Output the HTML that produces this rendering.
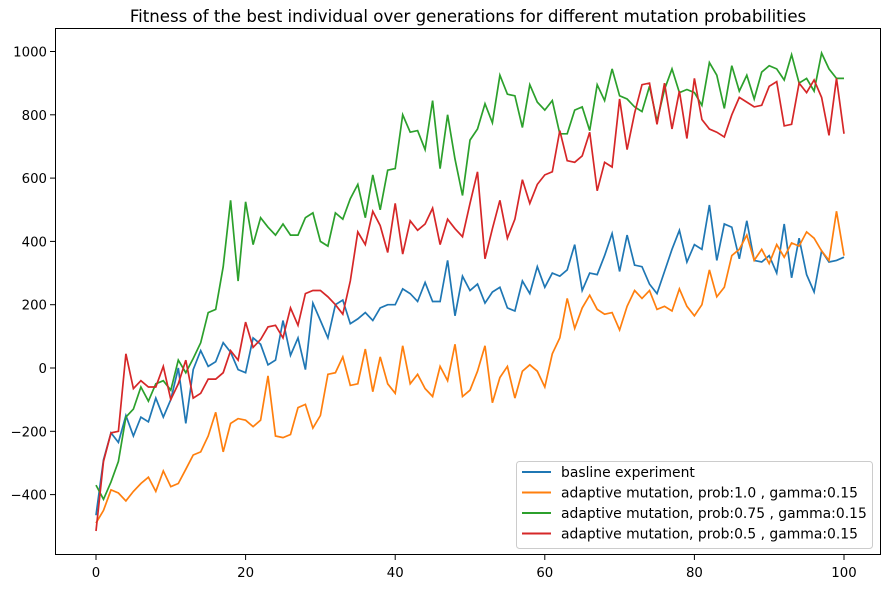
<!DOCTYPE html>
<html><head><meta charset="utf-8"><style>
body{margin:0;background:#fff;}
svg{display:block;font-family:"DejaVu Sans","Liberation Sans",sans-serif;}
</style></head><body>
<svg id="chart" width="890" height="589">
<text x="468" y="22" font-size="16.6" text-anchor="middle" fill="#000">Fitness of the best individual over generations for different mutation probabilities</text>
<g id="marks"></g>
<rect x="55.5" y="28.5" width="825" height="526" fill="none" stroke="#000" stroke-width="1"/>
<g id="axes"></g>
<g>
<rect x="516.5" y="461.5" width="356" height="87" rx="3" fill="#fff" fill-opacity="0.8" stroke="#ccc"/>
<g id="legend-entries"></g>
</g>
</svg>
<script>
const seriesNames=["basline experiment","adaptive mutation, prob:1.0 , gamma:0.15","adaptive mutation, prob:0.75 , gamma:0.15","adaptive mutation, prob:0.5 , gamma:0.15"];
const colors=["#1f77b4","#ff7f0e","#2ca02c","#d62728"];
const xTicks=[0,20,40,60,80,100];
const yTicks=[-400,-200,0,200,400,600,800,1000];
const baseline=[-465,-290,-205,-235,-150,-215,-155,-170,-95,-155,-100,0,-175,-5,55,5,20,80,50,-5,-15,95,75,10,25,150,40,95,-5,205,150,95,200,215,140,155,175,150,190,200,200,250,235,210,270,210,210,340,165,290,245,265,205,240,255,190,180,275,235,320,255,300,290,310,390,245,300,295,355,425,305,420,325,320,265,235,305,375,435,335,390,375,515,340,455,445,345,465,340,335,355,300,455,285,410,295,240,370,335,340,350];
const prob100=[-490,-450,-385,-395,-420,-390,-365,-345,-390,-325,-375,-365,-320,-275,-265,-215,-140,-265,-175,-160,-165,-185,-165,-25,-215,-220,-210,-125,-115,-190,-150,-20,-15,35,-55,-50,60,-75,35,-50,-80,70,-50,-20,-65,-90,5,-40,75,-90,-70,-10,70,-110,-30,5,-95,-10,10,-10,-60,45,95,220,125,190,230,185,170,175,120,195,245,220,245,185,195,180,250,195,165,200,310,225,255,355,375,420,340,375,330,390,350,395,385,430,410,370,340,495,355];
const prob075=[-370,-415,-360,-295,-155,-130,-60,-105,-50,-40,-70,25,-15,30,80,175,185,320,530,275,525,390,475,445,420,455,420,420,475,490,400,385,490,470,535,580,475,610,500,625,630,800,745,750,690,845,630,800,660,545,720,755,835,775,925,865,860,760,895,840,815,845,740,740,815,825,750,895,845,945,860,850,825,810,890,780,880,945,870,880,870,830,965,925,820,955,875,925,850,935,955,945,910,990,900,915,875,995,945,915,915];
const prob050=[-515,-295,-205,-200,45,-65,-40,-60,-60,5,-100,-50,25,-95,-80,-35,-35,-15,55,25,145,65,90,130,135,95,190,135,235,245,245,225,200,170,275,430,390,495,450,365,520,360,465,435,455,505,390,470,440,415,520,620,345,440,530,410,470,595,520,580,610,620,750,655,650,670,745,560,650,635,850,690,805,895,900,770,900,755,875,725,915,785,755,745,730,800,855,840,825,830,890,905,765,770,900,870,910,855,735,915,740];
const series=[baseline,prob100,prob075,prob050];
const NS="http://www.w3.org/2000/svg";
function xs(g){return 96+g*7.48;}
function ys(v){return 368-v*0.3165;}
const marks=document.getElementById('marks');
series.forEach((s,i)=>{
  const p=document.createElementNS(NS,'polyline');
  p.setAttribute('points',s.map((v,g)=>xs(g).toFixed(1)+','+ys(v).toFixed(1)).join(' '));
  p.setAttribute('fill','none');p.setAttribute('stroke',colors[i]);p.setAttribute('stroke-width','1.7');
  
  
  marks.appendChild(p);
});
const axes=document.getElementById('axes');
xTicks.forEach(t=>{
  const l=document.createElementNS(NS,'line');
  l.setAttribute('x1',xs(t));l.setAttribute('x2',xs(t));l.setAttribute('y1',555);l.setAttribute('y2',560);l.setAttribute('stroke','#000');
  
  
  axes.appendChild(l);
  const tx=document.createElementNS(NS,'text');
  tx.setAttribute('x',xs(t));tx.setAttribute('y',577);tx.setAttribute('font-size','13.3');tx.setAttribute('text-anchor','middle');
  tx.textContent=t;
  
  
  axes.appendChild(tx);
});
yTicks.forEach(t=>{
  const l=document.createElementNS(NS,'line');
  l.setAttribute('x1',50);l.setAttribute('x2',55);l.setAttribute('y1',ys(t));l.setAttribute('y2',ys(t));l.setAttribute('stroke','#000');
  
  
  axes.appendChild(l);
  const tx=document.createElementNS(NS,'text');
  tx.setAttribute('x',47);tx.setAttribute('y',ys(t)+5);tx.setAttribute('font-size','13.3');tx.setAttribute('text-anchor','end');
  tx.textContent=t<0?'\u2212'+(-t):t;
  
  
  axes.appendChild(tx);
});
const le=document.getElementById('legend-entries');
seriesNames.forEach((n,i)=>{
  const y=472+i*20.5;
  const l=document.createElementNS(NS,'line');
  l.setAttribute('x1',522);l.setAttribute('x2',551);l.setAttribute('y1',y);l.setAttribute('y2',y);l.setAttribute('stroke',colors[i]);l.setAttribute('stroke-width','2');
  
  
  le.appendChild(l);
  const tx=document.createElementNS(NS,'text');
  tx.setAttribute('x',561);tx.setAttribute('y',y+5);tx.setAttribute('font-size','13.9');
  tx.textContent=n;
  
  
  le.appendChild(tx);
});
</script>
</body></html>
